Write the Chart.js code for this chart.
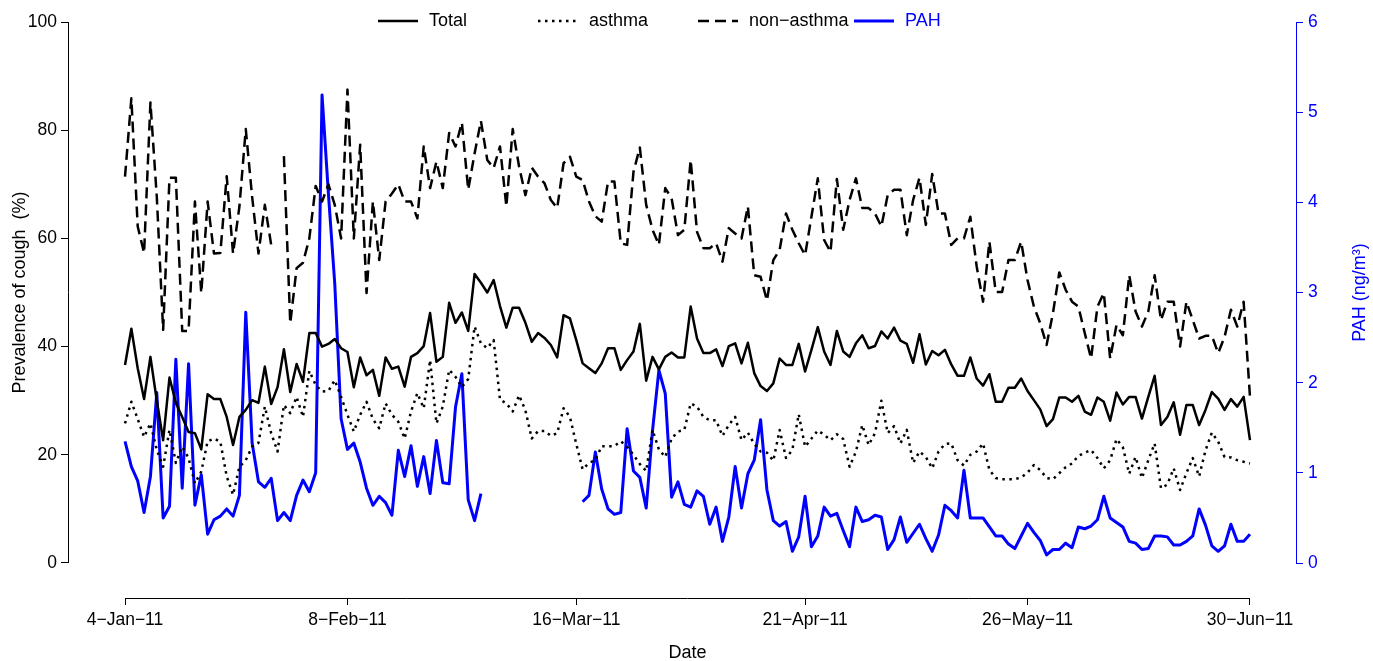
<!DOCTYPE html>
<html>
<head>
<meta charset="utf-8">
<script src="https://cdn.jsdelivr.net/npm/chart.js@4.4.1/dist/chart.umd.min.js"></script>
<style>
  html, body { margin: 0; padding: 0; background: #fff; }
</style>
</head>
<body>
<canvas id="chart" width="1373" height="661"></canvas>
<script>
// Daily cough prevalence (%) and PAH (ng/m3), 4-Jan-11 .. 30-Jun-11, one value per day

const X_TICKS = [0, 35, 71, 107, 142, 177];
const X_TICK_LABELS = ["4−Jan−11", "8−Feb−11", "16−Mar−11", "21−Apr−11", "26−May−11", "30−Jun−11"];
const LEFT_TICKS = [0, 20, 40, 60, 80, 100];
const RIGHT_TICKS = [0, 1, 2, 3, 4, 5, 6];

const TOTAL = [
  36.6, 43.3, 36, 30.3, 38.1, 30, 22.7, 34.3, 29.6, 27,
  24.2, 24, 21, 31.2, 30.3, 30.3, 27, 21.8, 27, 28.3,
  30.1, 29.6, 36.3, 29.4, 32.5, 39.5, 31.6, 36.8, 33.5, 42.5,
  42.5, 40, 40.5, 41.4, 39.7, 39, 32.5, 38, 34.7, 35.7,
  30.9, 38, 35.9, 36.3, 32.6, 38.1, 38.8, 40.1, 46.2, 37.2,
  38.1, 48.1, 44.4, 46.3, 42.9, 53.4, 51.8, 50, 52.3, 47.5,
  43.5, 47.2, 47.2, 44.4, 40.9, 42.5, 41.6, 40.3, 38, 45.8,
  45.2, 41.2, 36.9, 36, 35.1, 36.9, 39.7, 39.7, 35.7, 37.5,
  39.1, 44.2, 33.7, 38.1, 35.8, 38.1, 38.9, 38, 38, 47.4,
  41.5, 38.8, 38.8, 39.5, 36.4, 40.1, 40.6, 36.9, 40.7, 35.1,
  32.7, 31.8, 33.2, 37.8, 36.6, 36.6, 40.5, 35.4, 39.4, 43.6,
  39.1, 36.6, 42.9, 39.1, 38.1, 40.6, 42.1, 39.7, 40.1, 42.8,
  41.5, 43.5, 41.1, 40.5, 37, 42.3, 36.7, 39.2, 38.4, 39.4,
  36.7, 34.6, 34.6, 38, 34.1, 32.8, 34.9, 29.8, 29.8, 32.4,
  32.4, 34.1, 31.8, 30.1, 28.4, 25.3, 26.6, 30.6, 30.6, 29.8,
  30.9, 28, 27.4, 30.6, 29.8, 26.3, 31.5, 29.3, 30.7, 30.7,
  26.7, 30.7, 34.6, 25.5, 27, 29.7, 23.7, 29.2, 29.2, 25.5,
  28.3, 31.6, 30.4, 28.3, 30.3, 28.9, 30.7, 22.7
];

const ASTHMA = [
  25.8, 29.8, 26.6, 23.3, 25.8, 20.9, 17.8, 24.6, 18.5, 21.5,
  19.4, 14.7, 16.9, 22.5, 23, 22.4, 16, 12.6, 17.8, 19,
  21.5, 22.2, 28.9, 24, 20.6, 29.2, 27.7, 30.7, 27, 35.5,
  32.9, 31.7, 31.8, 33.8, 30.7, 27.4, 24.3, 27.4, 29.8, 26.6,
  24.9, 29.5, 27.4, 26.1, 23, 28, 31.4, 28.6, 37.5, 25.8,
  28.9, 35.7, 34.4, 32.5, 34, 43.7, 40.6, 39.7, 41.2, 30.2,
  29.5, 28, 31, 28.2, 23, 24.4, 24.4, 23.5, 24, 28.6,
  27, 22, 17.3, 18.5, 19, 21.6, 21.6, 21.6, 22.5, 21.5,
  20, 18.3, 17, 24.6, 21, 19.6, 23, 24.3, 24.6, 29.5,
  28.9, 27, 26.4, 26.4, 23.5, 25.5, 27, 22.7, 24.1, 22,
  20.6, 20.4, 18.9, 24.6, 19.4, 20.9, 27.5, 21.5, 23, 24.5,
  23.7, 22.7, 23.8, 22.9, 17.8, 20.6, 25.5, 21.8, 24, 30,
  24, 25.3, 22.1, 24.6, 18.5, 20.6, 19.6, 17.5, 20.6, 22,
  22.1, 19, 18, 20, 20.6, 22.1, 17.2, 15.7, 15.5, 15.5,
  15.5, 15.8, 16.7, 18.1, 17.2, 15.7, 15.5, 16.6, 17.7, 18.4,
  19.8, 20.4, 20.9, 19.4, 17.5, 19, 22.9, 21.4, 16.5, 19.6,
  15.7, 19, 22.1, 13.8, 14.5, 17.5, 13.5, 16.6, 19.4, 16,
  20.8, 24.1, 22.4, 19.6, 19.5, 19, 18.7, 18.4
];

const NON_ASTHMA = [
  71.4, 85.9, 62.2, 57.3, 85.1, 67.7, 43.1, 71.2, 71.2, 42.9,
  42.9, 66.8, 49.9, 66.8, 57.2, 57.3, 71.5, 57.2, 65.9, 80.2,
  67.7, 57.2, 66.2, 58.8, null, 75.2, 44.3, 54.5, 55.5, 60,
  69.7, 66.8, 70, 66.2, 60, 87.5, 60, 77.3, 49.9, 66.8,
  56, 66.8, 68.3, 70, 66.8, 66.8, 63.7, 77, 69.3, 74.2,
  69.3, 79.5, 77, 81.4, 69, 75.7, 81.7, 74.5, 73, 77,
  65.9, 80.2, 73.3, 68, 73.1, 71.4, 70.2, 67.1, 65.6, 73.9,
  75.1, 71.4, 70.8, 66.8, 64.1, 63.1, 70.5, 70.5, 59.1, 58.8,
  72.3, 76.8, 66.2, 61.6, 58.8, 69.3, 67.4, 60.6, 61.6, 74.5,
  61.2, 58.2, 58.2, 59.1, 55.7, 61.9, 60.9, 60, 65.9, 53.2,
  52.9, 48.5, 56, 57.9, 64.6, 61.6, 59.1, 56.9, 64, 71.1,
  59.7, 57.5, 71, 61.6, 67.1, 71.1, 65.6, 65.6, 64.6, 62.2,
  68, 69, 69, 60.6, 67.1, 71.2, 62.5, 71.9, 64.6, 64.6,
  58.8, 60, 60, 64, 54.8, 48.3, 59.4, 50.1, 50.1, 56,
  56, 59.4, 52.3, 47.4, 44.3, 40.3, 46.2, 53.7, 50.5, 48.3,
  47.4, 42.5, 37.8, 47.4, 49.9, 37.8, 44, 42.1, 53.2, 46.5,
  43.7, 46.5, 53.2, 44.9, 48.3, 48.3, 40, 48.3, 44.9, 41.5,
  42, 42, 38.8, 41.8, 46.8, 43.7, 48.3, 30.7
];

const PAH = [
  1.35, 1.07, 0.91, 0.56, 0.96, 1.89, 0.50, 0.63, 2.26, 0.83,
  2.21, 0.64, 0.98, 0.32, 0.48, 0.52, 0.60, 0.52, 0.75, 2.78,
  1.33, 0.90, 0.84, 0.94, 0.47, 0.56, 0.47, 0.75, 0.92, 0.79,
  1.0, 5.19, 4.1, 3.1, 1.6, 1.26, 1.33, 1.12, 0.83, 0.64,
  0.74, 0.67, 0.53, 1.25, 0.96, 1.30, 0.85, 1.18, 0.77, 1.36,
  0.89, 0.88, 1.73, 2.10, 0.70, 0.47, 0.77, null, null, null,
  null, null, null, null, null, null, null, null, null, null,
  null, null, 0.68, 0.75, 1.23, 0.82, 0.60, 0.54, 0.56, 1.49,
  1.02, 0.95, 0.61, 1.47, 2.14, 1.88, 0.73, 0.90, 0.65, 0.62,
  0.80, 0.74, 0.43, 0.62, 0.24, 0.51, 1.07, 0.61, 0.99, 1.14,
  1.59, 0.81, 0.47, 0.41, 0.46, 0.13, 0.29, 0.74, 0.18, 0.30,
  0.62, 0.52, 0.55, 0.36, 0.18, 0.62, 0.46, 0.48, 0.53, 0.51,
  0.15, 0.26, 0.51, 0.23, 0.33, 0.43, 0.27, 0.13, 0.31, 0.64,
  0.58, 0.50, 1.03, 0.50, 0.50, 0.50, 0.40, 0.30, 0.30, 0.21,
  0.16, 0.30, 0.44, 0.34, 0.25, 0.09, 0.15, 0.15, 0.22, 0.17,
  0.40, 0.38, 0.41, 0.48, 0.74, 0.50, 0.45, 0.40, 0.24, 0.22,
  0.15, 0.16, 0.30, 0.30, 0.29, 0.20, 0.20, 0.24, 0.30, 0.60,
  0.42, 0.19, 0.13, 0.19, 0.43, 0.24, 0.24, 0.32
];

const FONT = "'Liberation Sans', Arial, Helvetica, sans-serif";
const BLUE = "#0000ff";
Chart.defaults.font.family = FONT;
Chart.defaults.font.size = 17.5;
Chart.defaults.color = "#000";

const toPts = (arr) => arr.map((v, i) => ({ x: i, y: v }));

// axis lines only span first..last tick, like base R graphics
const axisLines = {
  id: "axisLines",
  afterDraw(chart) {
    const { ctx, chartArea: a, scales } = chart;
    const { x, y, y2 } = scales;
    ctx.save();
    ctx.lineWidth = 1;
    ctx.strokeStyle = "#000";
    ctx.beginPath();
    ctx.moveTo(Math.round(a.left) + 0.5, y.getPixelForValue(LEFT_TICKS[0]));
    ctx.lineTo(Math.round(a.left) + 0.5, y.getPixelForValue(LEFT_TICKS[LEFT_TICKS.length - 1]));
    ctx.moveTo(x.getPixelForValue(X_TICKS[0]), Math.round(a.bottom) + 0.5);
    ctx.lineTo(x.getPixelForValue(X_TICKS[X_TICKS.length - 1]), Math.round(a.bottom) + 0.5);
    ctx.stroke();
    ctx.strokeStyle = BLUE;
    ctx.beginPath();
    ctx.moveTo(Math.round(a.right) + 0.5, y2.getPixelForValue(RIGHT_TICKS[0]));
    ctx.lineTo(Math.round(a.right) + 0.5, y2.getPixelForValue(RIGHT_TICKS[RIGHT_TICKS.length - 1]));
    ctx.stroke();

    // axis titles
    ctx.font = "18px " + FONT;
    ctx.textAlign = "center";
    ctx.textBaseline = "middle";
    const midY = (y.getPixelForValue(0) + y.getPixelForValue(100)) / 2;
    ctx.fillStyle = "#000";
    ctx.fillText("Date", (x.getPixelForValue(X_TICKS[0]) + x.getPixelForValue(X_TICKS[5])) / 2, 653);
    ctx.save();
    ctx.translate(20, midY);
    ctx.rotate(-Math.PI / 2);
    ctx.fillText("Prevalence of cough  (%)", 0, 0);
    ctx.restore();
    ctx.save();
    ctx.translate(1360, midY);
    ctx.rotate(-Math.PI / 2);
    ctx.fillStyle = BLUE;
    ctx.fillText("PAH (ng/m³)", 0, 0);
    ctx.restore();
    ctx.restore();
  }
};

// horizontal legend across the top
const topLegend = {
  id: "topLegend",
  afterDraw(chart) {
    const { ctx } = chart;
    const slots = [378, 538, 698, 854];
    ctx.save();
    ctx.font = "18px " + FONT;
    ctx.textBaseline = "middle";
    ctx.textAlign = "left";
    chart.data.datasets.forEach((ds, i) => {
      const x0 = slots[i], yy = 21;
      ctx.strokeStyle = ds.borderColor;
      ctx.lineWidth = ds.borderWidth;
      ctx.setLineDash(ds.borderDash || []);
      ctx.beginPath();
      ctx.moveTo(x0, yy);
      ctx.lineTo(x0 + 40, yy);
      ctx.stroke();
      ctx.setLineDash([]);
      ctx.fillStyle = ds.borderColor;
      ctx.fillText(ds.label, x0 + 51, yy);
    });
    ctx.restore();
  }
};

const tickGrid = (color) => ({
  drawOnChartArea: false, drawTicks: true, tickLength: 7, color: color, lineWidth: 1
});

new Chart(document.getElementById("chart"), {
  type: "line",
  data: {
    datasets: [
      { label: "Total", data: toPts(TOTAL), borderColor: "#000", borderWidth: 2.5, yAxisID: "y" },
      { label: "asthma", data: toPts(ASTHMA), borderColor: "#000", borderWidth: 2.5, borderDash: [2.5, 4.5], yAxisID: "y" },
      { label: "non−asthma", data: toPts(NON_ASTHMA), borderColor: "#000", borderWidth: 2.5, borderDash: [11, 6], yAxisID: "y" },
      { label: "PAH", data: toPts(PAH), borderColor: BLUE, borderWidth: 3, yAxisID: "y2" }
    ]
  },
  options: {
    responsive: false,
    animation: false,
    layout: { padding: { top: 22, left: 0, right: 0, bottom: 0 } },
    elements: { point: { radius: 0 }, line: { tension: 0, borderCapStyle: "butt", borderJoinStyle: "round" } },
    plugins: { legend: { display: false }, tooltip: { enabled: false } },
    scales: {
      x: {
        type: "linear",
        min: -8.97,
        max: 184.24,
        afterBuildTicks: (s) => { s.ticks = X_TICKS.map((v) => ({ value: v })); },
        afterFit: (s) => { s.height = 63; },
        ticks: { callback: (v, i) => X_TICK_LABELS[i], autoSkip: false, maxRotation: 0, padding: 5 },
        grid: tickGrid("#000"),
        border: { display: false }
      },
      y: {
        position: "left",
        min: -6.47,
        max: 100,
        afterBuildTicks: (s) => { s.ticks = LEFT_TICKS.map((v) => ({ value: v })); },
        afterFit: (s) => { s.width = 68; },
        ticks: { padding: 4 },
        grid: tickGrid("#000"),
        border: { display: false }
      },
      y2: {
        position: "right",
        min: -0.388,
        max: 6,
        afterBuildTicks: (s) => { s.ticks = RIGHT_TICKS.map((v) => ({ value: v })); },
        afterFit: (s) => { s.width = 77; },
        ticks: { padding: 5, color: BLUE },
        grid: tickGrid(BLUE),
        border: { display: false }
      }
    }
  },
  plugins: [axisLines, topLegend]
});
</script>
</body>
</html>
